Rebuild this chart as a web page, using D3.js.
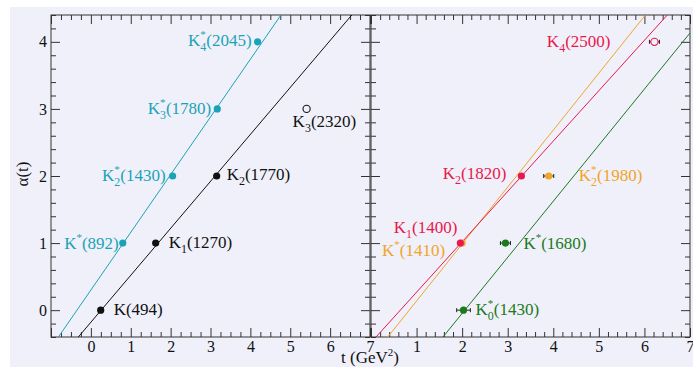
<!DOCTYPE html>
<html><head><meta charset="utf-8">
<script src="https://cdn.jsdelivr.net/npm/d3@7"></script>
<style>body{margin:0;background:#fff}svg{display:block}text{font-family:"Liberation Serif","Times New Roman",serif}</style>
</head><body><svg id="c" width="693" height="367"></svg>
<script>
// ---- data ----
const xDomainLeft = [-1, 7];
const xDomainRight = [0, 7];
const yDomain = [-0.4, 4.4];
const xTicksLeft = [0, 1, 2, 3, 4, 5, 6, 7];
const xTicksRight = [1, 2, 3, 4, 5, 6, 7];
const yTicks = [0, 1, 2, 3, 4];

// resonances: label, t = m^2 (GeV^2), alpha
const blackPoints = [
  {label: "K(494)", t: 0.246, a: 0},
  {label: "K1(1270)", t: 1.625, a: 1},
  {label: "K2(1770)", t: 3.155, a: 2}
];
const blackOpen = [{label: "K3(2320)", t: 5.41, a: 3}];
const cyanPoints = [
  {label: "K*(892)", t: 0.80, a: 1},
  {label: "K2*(1430)", t: 2.05, a: 2},
  {label: "K3*(1780)", t: 3.17, a: 3},
  {label: "K4*(2045)", t: 4.18, a: 4}
];
const redPoints = [
  {label: "K1(1400)", t: 1.96, a: 1},
  {label: "K2(1820)", t: 3.30, a: 2}
];
const redOpen = [{label: "K4(2500)", t: 6.22, a: 4, err: 0.11}];
const orangePoints = [
  {label: "K*(1410)", t: 2.0, a: 1},
  {label: "K2*(1980)", t: 3.90, a: 2, err: 0.11}
];
const greenPoints = [
  {label: "K0*(1430)", t: 2.03, a: 0, err: 0.15},
  {label: "K*(1680)", t: 2.95, a: 1, err: 0.11}
];
// trajectories alpha(t) = intercept + slope * t
const trajBlack = {intercept: -0.18, slope: 0.70};
const trajCyan = {intercept: 0.30, slope: 0.86};
const trajRed = {intercept: -0.483, slope: 0.751};
const trajOrange = {intercept: -0.712, slope: 0.849};
const trajGreen = {intercept: -1.72, slope: 0.836};

// ---- styles / layout ----
const C = {black: "#111", cyan: "#1aa3b6", red: "#e8184c", orange: "#f0a428", green: "#1b7a1b", frame: "#333"};
const labelPos = {
  "K(494)": ["start", 13, 5], "K1(1270)": ["start", 13, 5], "K2(1770)": ["start", 10, 4],
  "K3(2320)": ["start", -14, 18],
  "K*(892)": ["end", -4, 6], "K2*(1430)": ["end", -7, 5], "K3*(1780)": ["end", -6, 5], "K4*(2045)": ["end", -6, 4],
  "K4(2500)": ["end", -44, 5], "K2(1820)": ["end", -15, 3], "K1(1400)": ["end", -3, -10],
  "K*(1410)": ["end", -17, 13], "K2*(1980)": ["start", 30, 5], "K*(1680)": ["start", 18, 6],
  "K0*(1430)": ["start", 12, 5]
};
const yTop = 15, yBot = 337;
const L = {x0: 51, x1: 370}, R = {x0: 371, x1: 690};

const svg = d3.select("#c");
svg.append("rect").attr("x", 10).attr("y", 7).attr("width", 683).attr("height", 360).attr("fill", "#f0f0fa");

const y = d3.scaleLinear().domain(yDomain).range([yBot, yTop]);
const xL = d3.scaleLinear().domain(xDomainLeft).range([L.x0, L.x1]);
const xR = d3.scaleLinear().domain(xDomainRight).range([R.x0, R.x1]);

const defs = svg.append("defs");
[["clipL", L], ["clipR", R]].forEach(([id, p]) => {
  defs.append("clipPath").attr("id", id).append("rect")
    .attr("x", p.x0).attr("y", yTop).attr("width", p.x1 - p.x0).attr("height", yBot - yTop);
});

function minorVals(domain, step) {
  const out = [];
  for (let v = Math.ceil(domain[0] / step - 1e-9) * step; v <= domain[1] + 1e-9; v += step) {
    const r = Math.round(v * 1000) / 1000;
    if (Math.abs(r - Math.round(r)) > 1e-6) out.push(r);
  }
  return out;
}

function drawAxes(x, p, xTicks, xMinorStep) {
  const g = svg.append("g");
  const majorX = d3.range(Math.ceil(x.domain()[0]), Math.floor(x.domain()[1]) + 1);
  g.append("g").attr("transform", `translate(0,${yBot})`)
    .call(d3.axisBottom(x).tickValues(majorX).tickSize(-9).tickPadding(4)
      .tickFormat(d => xTicks.includes(d) ? d : ""));
  g.append("g").attr("transform", `translate(0,${yBot})`)
    .call(d3.axisBottom(x).tickValues(minorVals(x.domain(), xMinorStep)).tickSize(-5).tickFormat(""));
  g.append("g").attr("transform", `translate(0,${yTop})`)
    .call(d3.axisTop(x).tickValues(majorX).tickSize(-9).tickFormat(""));
  g.append("g").attr("transform", `translate(0,${yTop})`)
    .call(d3.axisTop(x).tickValues(minorVals(x.domain(), xMinorStep)).tickSize(-5).tickFormat(""));
  g.append("g").attr("transform", `translate(${p.x0},0)`)
    .call(d3.axisLeft(y).tickValues(yTicks).tickSize(-9).tickPadding(4)
      .tickFormat(p === L ? (d => d) : ""));
  g.append("g").attr("transform", `translate(${p.x0},0)`)
    .call(d3.axisLeft(y).tickValues(minorVals(yDomain, 0.2)).tickSize(-5).tickFormat(""));
  g.append("g").attr("transform", `translate(${p.x1},0)`)
    .call(d3.axisRight(y).tickValues(yTicks).tickSize(-9).tickFormat(""));
  g.append("g").attr("transform", `translate(${p.x1},0)`)
    .call(d3.axisRight(y).tickValues(minorVals(yDomain, 0.2)).tickSize(-5).tickFormat(""));
  g.selectAll(".domain").remove();
  g.selectAll(".tick line").attr("stroke", C.frame).attr("stroke-width", 1);
  g.selectAll(".tick text").attr("font-family", "Liberation Serif").attr("font-size", 16).attr("fill", "#111");
  g.append("rect").attr("x", p.x0).attr("y", yTop).attr("width", p.x1 - p.x0).attr("height", yBot - yTop)
    .attr("fill", "none").attr("stroke", C.frame).attr("stroke-width", 1);
}

function drawLine(x, traj, color, clip) {
  const [d0, d1] = x.domain();
  const pts = [d0, d1].map(t => [t, traj.intercept + traj.slope * t]);
  svg.append("line").attr("clip-path", `url(#${clip})`)
    .attr("x1", x(pts[0][0])).attr("y1", y(pts[0][1]))
    .attr("x2", x(pts[1][0])).attr("y2", y(pts[1][1]))
    .attr("stroke", color).attr("stroke-width", 1);
}

function addLabel(x, d, color) {
  const [anchor, dx, dy] = labelPos[d.label];
  const m = d.label.match(/^K(\d?)(\*?)(\(.*\))$/);
  const t = svg.append("text").attr("x", x(d.t) + dx).attr("y", y(d.a) + dy)
    .attr("text-anchor", anchor).attr("font-size", 17).attr("fill", color);
  t.append("tspan").text("K");
  let shift = 0;
  if (m[2]) { t.append("tspan").attr("font-size", 11).attr("dy", -8).text("*"); shift -= 8; }
  if (m[1]) {
    const s = t.append("tspan").attr("font-size", 12).attr("dy", 5 - shift).text(m[1]);
    if (m[2]) s.attr("dx", -5.5);
    shift = 5;
  }
  t.append("tspan").attr("dy", -shift).text(m[3]);
}

function drawPoints(x, arr, color, open) {
  arr.forEach(d => {
    if (d.err) {
      const g = svg.append("g").attr("stroke", "#222").attr("stroke-width", 1);
      g.append("line").attr("x1", x(d.t - d.err)).attr("x2", x(d.t + d.err)).attr("y1", y(d.a)).attr("y2", y(d.a));
      [d.t - d.err, d.t + d.err].forEach(e => g.append("line").attr("x1", x(e)).attr("x2", x(e))
        .attr("y1", y(d.a) - 2).attr("y2", y(d.a) + 2));
    }
    svg.append("circle").attr("cx", x(d.t)).attr("cy", y(d.a)).attr("r", 3.6)
      .attr("fill", open ? "#f0f0fa" : color).attr("stroke", color).attr("stroke-width", open ? 1.1 : 0);
    addLabel(x, d, color);
  });
}

drawAxes(xL, L, xTicksLeft, 0.25);
drawAxes(xR, R, xTicksRight, 0.2);

drawLine(xL, trajCyan, C.cyan, "clipL");
drawLine(xL, trajBlack, C.black, "clipL");
drawLine(xR, trajOrange, C.orange, "clipR");
drawLine(xR, trajRed, C.red, "clipR");
drawLine(xR, trajGreen, C.green, "clipR");

drawPoints(xL, blackPoints, C.black, false);
drawPoints(xL, blackOpen, C.black, true);
drawPoints(xL, cyanPoints, C.cyan, false);
drawPoints(xR, orangePoints, C.orange, false);
drawPoints(xR, redPoints, C.red, false);
drawPoints(xR, redOpen, C.red, true);
drawPoints(xR, greenPoints, C.green, false);

svg.append("text").attr("transform", `translate(28,${(yTop + yBot) / 2 - 2}) rotate(-90)`)
  .attr("text-anchor", "middle").attr("font-size", 17).attr("fill", "#111").text("α(t)");
const xt = svg.append("text").attr("x", 370).attr("y", 363).attr("text-anchor", "middle")
  .attr("font-size", 17).attr("fill", "#111");
xt.append("tspan").text("t (GeV");
xt.append("tspan").attr("font-size", 11).attr("dy", -7).text("2");
xt.append("tspan").attr("dy", 7).text(")");
</script></body></html>
